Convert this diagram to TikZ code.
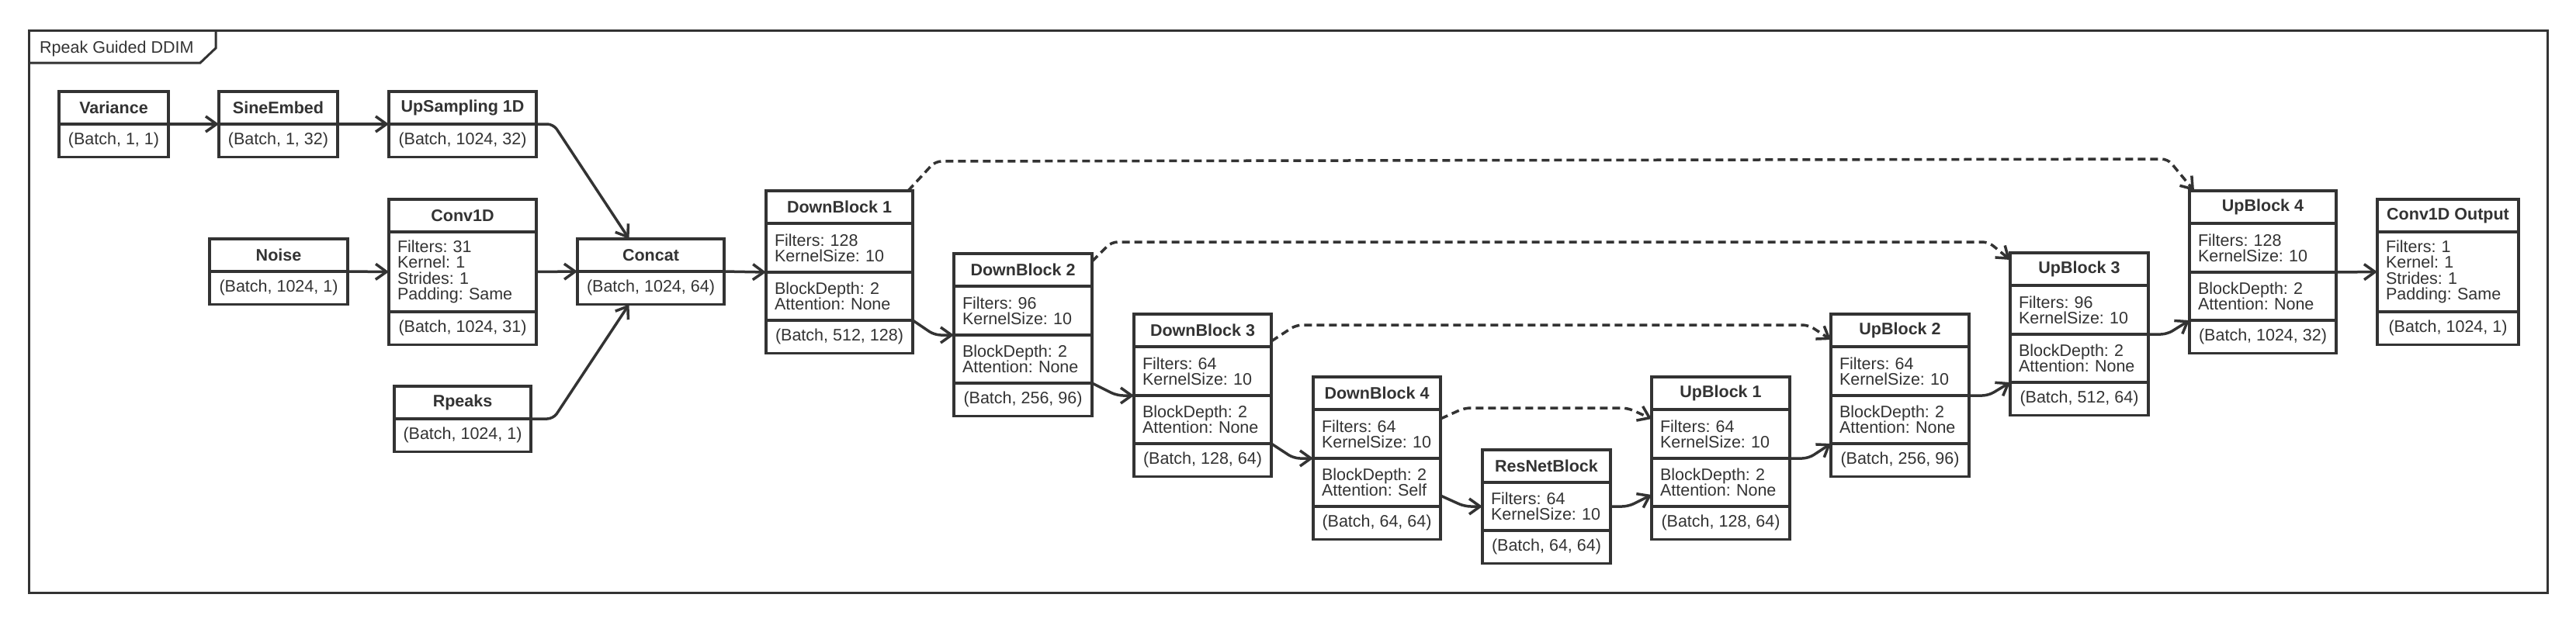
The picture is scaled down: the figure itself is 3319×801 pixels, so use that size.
\documentclass[tikz,border=0pt]{standalone}
\usepackage{fontspec}
\setmainfont{Liberation Sans}
\usetikzlibrary{positioning,arrows.meta}

\definecolor{ink}{HTML}{333333}
\newcommand{\layerfont}{\fontsize{21.5}{20.3}\selectfont\frenchspacing}
\newcommand{\layerhead}{\fontsize{21.5}{20.3}\selectfont\bfseries}

\tikzset{
    hd/.style={draw=ink, line width=3.5pt, outer sep=0pt, inner sep=0pt, minimum width=#1, minimum height=42pt, font=\layerhead, text=ink, anchor=north west},
    io/.style={draw=ink, line width=3.5pt, outer sep=0pt, inner sep=0pt, minimum width=#1, minimum height=42.5pt, font=\layerfont, text=ink},
    prm/.style 2 args={draw=ink, line width=3.5pt, outer sep=0pt, inner xsep=11pt, inner ysep=0pt, text width=#1-22pt, minimum height=#2, align=left, font=\layerfont, text=ink},
    flow/.style={-{Straight Barb[length=14pt,width=20pt]}, draw=ink, line width=3.5pt, rounded corners=8pt, line join=round},
    skip/.style={flow, dash pattern=on 10pt off 6pt},
}

\begin{document}
\begin{tikzpicture}[x=1pt, y=-1pt]
        \fill[white] (0,0) rectangle (3319,801);
        \useasboundingbox (0,0) rectangle (3319,801);

        % frame
        \draw[ink, line width=3pt] (37,39) rectangle (3282,764);
        \draw[ink, line width=3pt] (37,81) -- (258,81) -- (278,62) -- (278,39);
        \node[anchor=base west, inner sep=0pt, font=\layerfont, text=ink] (frame-lbl) at (51,68) {Rpeak Guided DDIM};

        % inputs
        \node[hd=141pt] (var) at (76,118) {Variance};
        \node[io=141pt, below=0pt of var] (var-o) {(Batch, 1, 1)};

        \node[hd=153pt] (sine) at (282,118) {SineEmbed};
        \node[io=153pt, below=0pt of sine] (sine-o) {(Batch, 1, 32)};

        \node[hd=190pt] (ups) at (501,118) {UpSampling 1D};
        \node[io=190pt, below=0pt of ups] (ups-o) {(Batch, 1024, 32)};

        \node[hd=178pt] (noise) at (270,308) {Noise};
        \node[io=178pt, below=0pt of noise] (noise-o) {(Batch, 1024, 1)};

        \node[hd=190pt] (conv) at (501,257) {Conv1D};
        \node[prm={190pt}{103pt}, below=0pt of conv] (conv-p) {Filters: 31\\Kernel: 1\\Strides: 1\\Padding: Same};
        \node[io=190pt, below=0pt of conv-p] (conv-o) {(Batch, 1024, 31)};

        \node[hd=176pt] (rp) at (508,498) {Rpeaks};
        \node[io=176pt, below=0pt of rp] (rp-o) {(Batch, 1024, 1)};

        \node[hd=189pt] (cat) at (744,308) {Concat};
        \node[io=189pt, below=0pt of cat] (cat-o) {(Batch, 1024, 64)};

        % down path
        \node[hd=189pt] (db1) at (987,246) {DownBlock 1};
        \node[prm={189pt}{63pt}, below=0pt of db1] (db1-a) {Filters: 128\\KernelSize: 10};
        \node[prm={189pt}{62pt}, below=0pt of db1-a] (db1-b) {BlockDepth: 2\\Attention: None};
        \node[io=189pt, below=0pt of db1-b] (db1-o) {(Batch, 512, 128)};

        \node[hd=178pt] (db2) at (1229,327) {DownBlock 2};
        \node[prm={178pt}{63pt}, below=0pt of db2] (db2-a) {Filters: 96\\KernelSize: 10};
        \node[prm={178pt}{62pt}, below=0pt of db2-a] (db2-b) {BlockDepth: 2\\Attention: None};
        \node[io=178pt, below=0pt of db2-b] (db2-o) {(Batch, 256, 96)};

        \node[hd=177pt] (db3) at (1461,405) {DownBlock 3};
        \node[prm={177pt}{63pt}, below=0pt of db3] (db3-a) {Filters: 64\\KernelSize: 10};
        \node[prm={177pt}{62pt}, below=0pt of db3-a] (db3-b) {BlockDepth: 2\\Attention: None};
        \node[io=177pt, below=0pt of db3-b] (db3-o) {(Batch, 128, 64)};

        \node[hd=164pt] (db4) at (1692,486) {DownBlock 4};
        \node[prm={164pt}{63pt}, below=0pt of db4] (db4-a) {Filters: 64\\KernelSize: 10};
        \node[prm={164pt}{62pt}, below=0pt of db4-a] (db4-b) {BlockDepth: 2\\Attention: Self};
        \node[io=164pt, below=0pt of db4-b] (db4-o) {(Batch, 64, 64)};

        \node[hd=165pt] (res) at (1910,580) {ResNetBlock};
        \node[prm={165pt}{62pt}, below=0pt of res] (res-a) {Filters: 64\\KernelSize: 10};
        \node[io=165pt, below=0pt of res-a] (res-o) {(Batch, 64, 64)};

        % up path
        \node[hd=178pt] (ub1) at (2128,486) {UpBlock 1};
        \node[prm={178pt}{63pt}, below=0pt of ub1] (ub1-a) {Filters: 64\\KernelSize: 10};
        \node[prm={178pt}{62pt}, below=0pt of ub1-a] (ub1-b) {BlockDepth: 2\\Attention: None};
        \node[io=178pt, below=0pt of ub1-b] (ub1-o) {(Batch, 128, 64)};

        \node[hd=178pt] (ub2) at (2359,405) {UpBlock 2};
        \node[prm={178pt}{63pt}, below=0pt of ub2] (ub2-a) {Filters: 64\\KernelSize: 10};
        \node[prm={178pt}{62pt}, below=0pt of ub2-a] (ub2-b) {BlockDepth: 2\\Attention: None};
        \node[io=178pt, below=0pt of ub2-b] (ub2-o) {(Batch, 256, 96)};

        \node[hd=178pt] (ub3) at (2590,326) {UpBlock 3};
        \node[prm={178pt}{63pt}, below=0pt of ub3] (ub3-a) {Filters: 96\\KernelSize: 10};
        \node[prm={178pt}{62pt}, below=0pt of ub3-a] (ub3-b) {BlockDepth: 2\\Attention: None};
        \node[io=178pt, below=0pt of ub3-b] (ub3-o) {(Batch, 512, 64)};

        \node[hd=189pt] (ub4) at (2821,246) {UpBlock 4};
        \node[prm={189pt}{63pt}, below=0pt of ub4] (ub4-a) {Filters: 128\\KernelSize: 10};
        \node[prm={189pt}{62pt}, below=0pt of ub4-a] (ub4-b) {BlockDepth: 2\\Attention: None};
        \node[io=189pt, below=0pt of ub4-b] (ub4-o) {(Batch, 1024, 32)};

        \node[hd=182pt] (out) at (3063,257) {Conv1D Output};
        \node[prm={182pt}{103pt}, below=0pt of out] (out-p) {Filters: 1\\Kernel: 1\\Strides: 1\\Padding: Same};
        \node[io=182pt, below=0pt of out-p] (out-o) {(Batch, 1024, 1)};

        % data flow
        \draw[flow] (var.south east) -- (sine.south west);
        \draw[flow] (sine.south east) -- (ups.south west);
        \draw[flow] (noise.south east) -- (conv-p.west);
        \draw[flow] (ups.south east) -- ++(22,0) -- ([xshift=-28pt]cat.north);
        \draw[flow] (conv-p.east) -- (cat.south west);
        \draw[flow] (rp.south east) -- ++(29,0) -- ([xshift=-28pt]cat-o.south);
        \draw[flow] (cat.south east) -- (db1-a.south west);
        \draw[flow] (db1-b.south east) -- ([xshift=-25pt]db2-a.south west) -- (db2-a.south west);
        \draw[flow] (db2-b.south east) -- ([xshift=-22pt]db3-a.south west) -- (db3-a.south west);
        \draw[flow] (db3-b.south east) -- ([xshift=-25pt]db4-a.south west) -- (db4-a.south west);
        \draw[flow] ([yshift=14pt]db4-b.south east) -- ([xshift=-23pt]res-a.west) -- (res-a.west);
        \draw[flow] (res-a.east) -- ++(23,0) -- ([yshift=15pt]ub1-b.south west);
        \draw[flow] (ub1-a.south east) -- ++(24,0) -- (ub2-b.south west);
        \draw[flow] (ub2-a.south east) -- ++(25,0) -- (ub3-b.south west);
        \draw[flow] (ub3-a.south east) -- ++(24,0) -- (ub4-b.south west);
        \draw[flow] (ub4-a.south east) -- (out-p.west);

        % skip connections
        \draw[skip] ([xshift=-6pt]db1.north east) -- ++(35,-38) -- ([xshift=-28pt,yshift=41pt]ub4.north west) -- ([xshift=6pt]ub4.north west);
        \draw[skip] ([yshift=-10pt]db2.north east) -- ++(25,-25) -- ([xshift=-28pt,yshift=14pt]ub3.north west) -- ([yshift=-9pt]ub3.north west);
        \draw[skip] ([yshift=-35pt]db3.north east) -- ++(32,-21) -- ([xshift=-29pt,yshift=-14pt]ub2.north west) -- ([yshift=-33pt]ub2.north west);
        \draw[skip] ([yshift=-54pt]db4.north east) -- ++(31,-14) -- ([xshift=-31pt,yshift=-40pt]ub1.north west) -- ([yshift=-54pt]ub1.north west);
\end{tikzpicture}
\end{document}
